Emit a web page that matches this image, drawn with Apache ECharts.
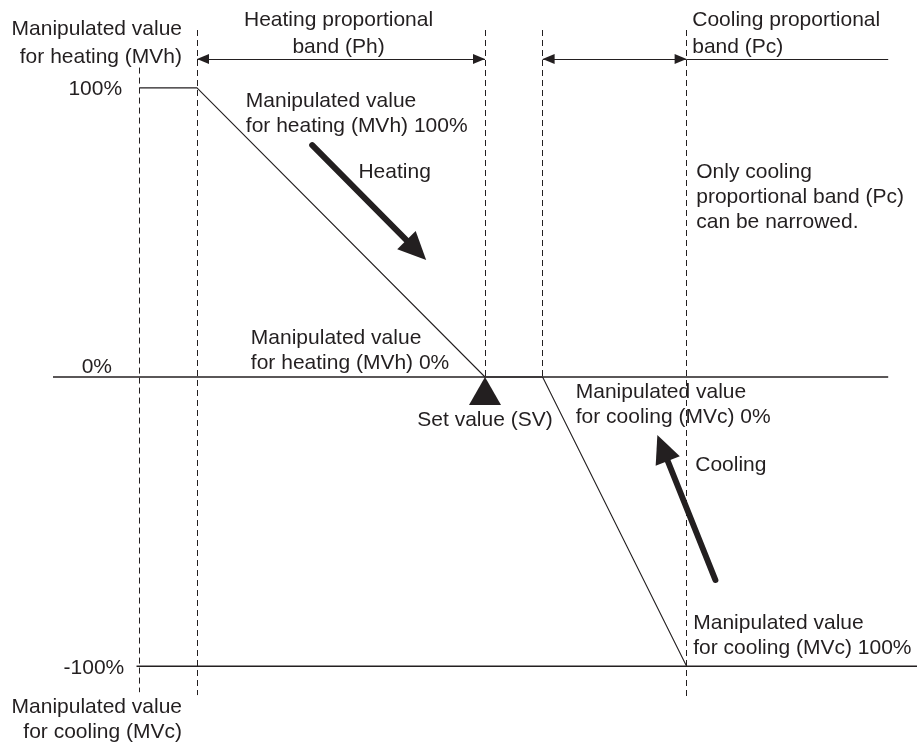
<!DOCTYPE html>
<html><head><meta charset="utf-8">
<script src="https://cdn.jsdelivr.net/npm/echarts@6/dist/echarts.min.js"></script>
<style>html,body{margin:0;padding:0;background:#fff}#c{width:917px;height:742px}</style>
</head><body><div id="c"></div>
<script>
// ---- data (x: deviation units around SV, y: manipulated value %) ----
const outputCurveX = [-24, -20, 0, 4, 14];
const outputCurveY = [100, 100, 0, 0, -100];
const zeroLineX = [-30, 28];
const fullCoolLineX = [-24.2, 30];
const guideX = [-24, -20, 0, 4, 14];
const guideTop = [107, 120, 120, 120, 120];
const guideBottom = [-109, -110, 0, 0, -110.7];
const bandArrowY = 110;
const phArrowX = [-20, 0];
const pcArrowX = [4, 14];
const pcTailX = [14, 28];
const heatingArrow = [[-12.0, 80.2], [-4.77, 43.9]];
const coolingArrow = [[16.0, -70.2], [12.33, -24.55]];
const setValuePoint = [0, 0];

const INK = '#231f20';
const FONT = "'Liberation Sans', Arial, Helvetica, sans-serif";

const annotations = [
  {text:'Manipulated value\nfor heating (MVh)', at:[-21.04,115.6], align:'right', lh:28},
  {text:'100%', at:[-25.2,99.4], align:'right'},
  {text:'0%', at:[-25.9,3.5], align:'right'},
  {text:'-100%', at:[-25.05,-100.6], align:'right'},
  {text:'Manipulated value\nfor cooling (MVc)', at:[-21.04,-118.5], align:'right', lh:25},
  {text:'Heating proportional\nband (Ph)', at:[-10.17,118.6], align:'center', lh:27},
  {text:'Cooling proportional\nband (Pc)', at:[14.39,118.6], align:'left', lh:27},
  {text:'Manipulated value\nfor heating (MVh) 100%', at:[-16.61,91.0], align:'left', lh:25},
  {text:'Heating', at:[-8.79,70.8], align:'left'},
  {text:'Only cooling\nproportional band (Pc)\ncan be narrowed.', at:[14.67,62.3], align:'left', lh:25},
  {text:'Manipulated value\nfor heating (MVh) 0%', at:[-16.26,9.0], align:'left', lh:25},
  {text:'Set value (SV)', at:[0,-15.0], align:'center'},
  {text:'Manipulated value\nfor cooling (MVc) 0%', at:[6.30,-9.6], align:'left', lh:25},
  {text:'Cooling', at:[14.6,-30.6], align:'left'},
  {text:'Manipulated value\nfor cooling (MVc) 100%', at:[14.46,-89.4], align:'left', lh:25}
];

const chart = echarts.init(document.getElementById('c'), null, {renderer:'canvas'});

const curve = outputCurveX.map((x,i)=>[x, outputCurveY[i]]);
const guides = guideX.map((x,i)=>({coords:[[x, guideTop[i]],[x, guideBottom[i]]]}));

function tipEnd(pt, size){ return {coord: pt, symbol:'triangle', symbolSize: size, symbolOffset:[0,'50%']}; }
function headEnd(pt, size){ return {coord: pt, symbol:'triangle', symbolSize: size}; }
function plainEnd(pt){ return {coord: pt, symbol:'none'}; }

const option = {
  animation:false,
  backgroundColor:'#fff',
  grid:{left:53, top:30, width:867, height:694, containLabel:false},
  xAxis:{type:'value', min:-30, max:30, show:false, splitLine:{show:false}},
  yAxis:{type:'value', min:-120, max:120, show:false, splitLine:{show:false}},
  series:[
    {type:'lines', coordinateSystem:'cartesian2d', silent:true, z:1,
     lineStyle:{color:INK, width:1, type:[6,4], opacity:1}, data:guides},
    {type:'line', data:[[zeroLineX[0],0],[zeroLineX[1],0]], symbol:'none', silent:true, z:2,
     lineStyle:{color:INK, width:1.6},
     markLine:{silent:true, animation:false, label:{show:false}, emphasis:{disabled:true},
       lineStyle:{color:INK, width:1.2, type:'solid', opacity:1},
       data:[
         [tipEnd([phArrowX[0], bandArrowY],[10,12]), tipEnd([phArrowX[1], bandArrowY],[10,12])],
         [tipEnd([pcArrowX[0], bandArrowY],[10,12]), tipEnd([pcArrowX[1], bandArrowY],[10,12])],
         [plainEnd([pcTailX[0], bandArrowY]), plainEnd([pcTailX[1], bandArrowY])]
       ]}},
    {type:'line', data:[[fullCoolLineX[0],-100],[fullCoolLineX[1],-100]], symbol:'none', silent:true, z:2,
     lineStyle:{color:INK, width:1.5},
     markLine:{silent:true, animation:false, label:{show:false}, emphasis:{disabled:true},
       lineStyle:{color:INK, width:6, type:'solid', cap:'round', opacity:1},
       itemStyle:{color:INK, opacity:1},
       data:[
         [plainEnd(heatingArrow[0]), headEnd(heatingArrow[1],[26,28])],
         [plainEnd(coolingArrow[0]), headEnd(coolingArrow[1],[26,28])]
       ]}},
    {type:'line', data:curve, symbol:'none', silent:true, z:3,
     lineStyle:{color:INK, width:1.1}},
    {type:'scatter', data:[setValuePoint], symbol:'triangle', symbolSize:[32,28], symbolOffset:[0,14],
     itemStyle:{color:INK, opacity:1}, silent:true, z:4},
    {type:'scatter', silent:true, z:5, symbolSize:1, itemStyle:{color:'rgba(0,0,0,0)', opacity:1},
     data: annotations.map(a=>({value:a.at, label:{show:true, position:'inside', formatter:a.text,
       align:a.align, verticalAlign:'middle', lineHeight:a.lh||25, fontSize:21, fontFamily:FONT,
       color:INK, opacity:1}}))}
  ]
};
chart.setOption(option);
</script></body></html>
